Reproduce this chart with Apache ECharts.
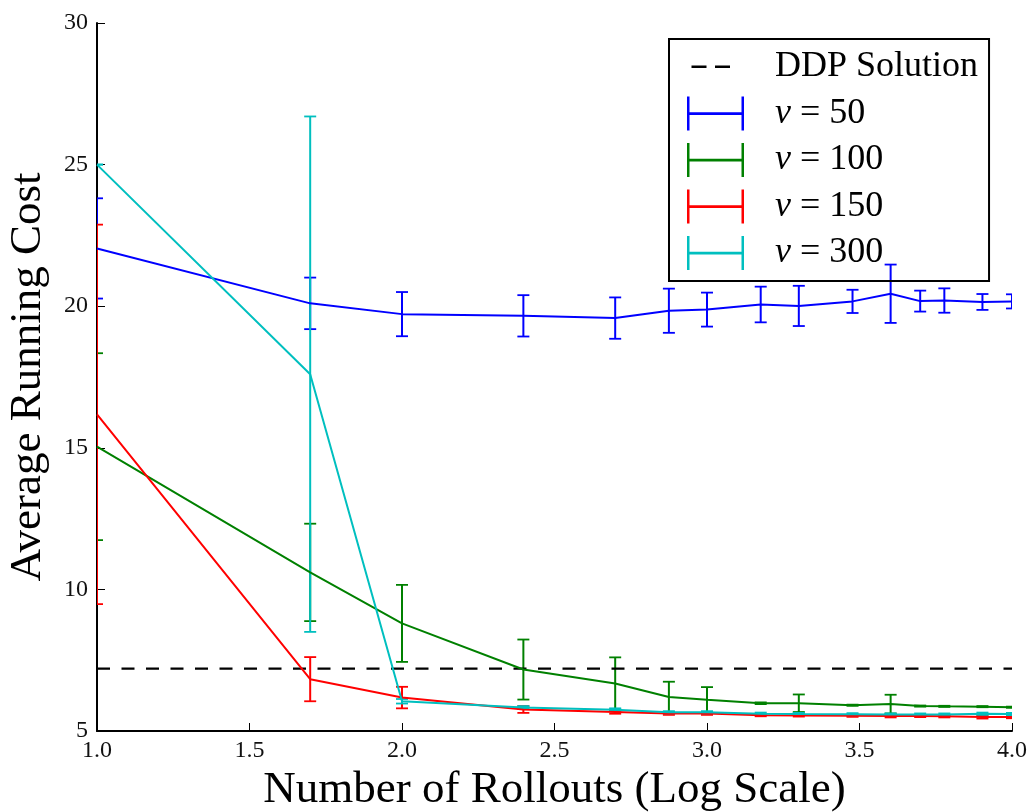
<!DOCTYPE html>
<html>
<head>
<meta charset="utf-8">
<script src="https://cdn.jsdelivr.net/npm/echarts@6/dist/echarts.min.js"></script>
<style>
  html, body { margin: 0; padding: 0; background: #ffffff; }
  #chart { width: 1033px; height: 812px; }
</style>
</head>
<body>
<div id="chart"></div>
<script>
// Number of rollouts per evaluation (plotted on a log10 axis)
const rollouts = [10, 50, 100, 250, 500, 750, 1000, 1500, 2000, 3000, 4000, 5000, 6000, 8000, 10000];

// Reference cost from the DDP solution
const ddpCost = 7.2;

// Average running cost and its error half-width for each temperature ν
const nu50Mean  = [22.04, 20.10, 19.72, 19.66, 19.58, 19.84, 19.88, 20.06, 20.01, 20.17, 20.44, 20.18, 20.20, 20.15, 20.17];
const nu50Err   = [1.77, 0.91, 0.78, 0.73, 0.73, 0.78, 0.60, 0.63, 0.71, 0.41, 1.03, 0.37, 0.43, 0.28, 0.25];

const nu100Mean = [15.04, 10.60, 8.80, 7.17, 6.68, 6.20, 6.10, 5.98, 5.98, 5.91, 5.95, 5.88, 5.87, 5.86, 5.84];
const nu100Err  = [3.30, 1.72, 1.36, 1.06, 0.92, 0.54, 0.45, 0.03, 0.31, 0.02, 0.33, 0.02, 0.02, 0.02, 0.02];

const nu150Mean = [16.18, 6.83, 6.18, 5.76, 5.67, 5.62, 5.62, 5.56, 5.55, 5.54, 5.53, 5.53, 5.52, 5.49, 5.49];
const nu150Err  = [6.70, 0.78, 0.38, 0.12, 0.06, 0.05, 0.05, 0.04, 0.04, 0.04, 0.05, 0.04, 0.04, 0.05, 0.04];

const nu300Mean = [25.00, 17.60, 6.05, 5.83, 5.75, 5.66, 5.66, 5.61, 5.60, 5.59, 5.58, 5.58, 5.58, 5.61, 5.60];
const nu300Err  = [0.00, 9.10, 0.08, 0.05, 0.05, 0.04, 0.04, 0.04, 0.04, 0.04, 0.04, 0.04, 0.04, 0.04, 0.04];

const seriesNames  = ['ν = 50', 'ν = 100', 'ν = 150', 'ν = 300'];
const seriesColors = ['#0000ff', '#008000', '#ff0000', '#00bfbf'];
const seriesMeans  = [nu50Mean, nu100Mean, nu150Mean, nu300Mean];
const seriesErrs   = [nu50Err, nu100Err, nu150Err, nu300Err];

const FONT = 'Liberation Serif';

// Legend glyphs: an errorbar "H" and a pair of dashes, both padded to the same box
const errIcon  = 'path://M0,0 h2.5 v34 h-2.5 z M54.5,0 h2.5 v34 h-2.5 z M0,15.8 h57 v2.6 h-57 z M82.99,33.99 h0.01 v0.01 h-0.01 z';
const dashIcon = 'path://M0,0 h0.01 v0.01 h-0.01 z M4.5,15.5 h15 v2.4 h-15 z M28,15.5 h15 v2.4 h-15 z M82.99,33.99 h0.01 v0.01 h-0.01 z';

const logX = rollouts.map(r => Math.log10(r));

function errorBarSeries(name, color, mean, err) {
  return {
    name: name + ' errors',
    type: 'custom',
    clip: true,
    silent: true,
    animation: false,
    data: logX.map((x, i) => [x, mean[i] - err[i], mean[i] + err[i]]),
    encode: { x: 0, y: [1, 2] },
    renderItem: function (params, api) {
      const x = api.value(0);
      const top = api.coord([x, api.value(2)]);
      const bot = api.coord([x, api.value(1)]);
      const hw = 6;
      const st = { stroke: color, lineWidth: 2 };
      const cap = { stroke: color, lineWidth: 1.8 };
      return {
        type: 'group',
        children: [
          { type: 'line', shape: { x1: top[0], y1: top[1], x2: bot[0], y2: bot[1] }, style: st },
          { type: 'line', shape: { x1: top[0] - hw, y1: top[1], x2: top[0] + hw, y2: top[1] }, style: cap },
          { type: 'line', shape: { x1: bot[0] - hw, y1: bot[1], x2: bot[0] + hw, y2: bot[1] }, style: cap }
        ]
      };
    }
  };
}

const series = [{
  name: 'DDP Solution',
  type: 'line',
  silent: true,
  animation: false,
  symbol: 'none',
  data: [[1, ddpCost], [4, ddpCost]],
  lineStyle: { color: '#000000', width: 2.3, type: [13, 11.5] },
  itemStyle: { color: '#000000' }
}];

seriesNames.forEach((name, k) => {
  series.push({
    name: name,
    type: 'line',
    silent: true,
    animation: false,
    symbol: 'none',
    data: logX.map((x, i) => [x, seriesMeans[k][i]]),
    lineStyle: { color: seriesColors[k], width: 2 },
    itemStyle: { color: seriesColors[k] }
  });
  series.push(errorBarSeries(name, seriesColors[k], seriesMeans[k], seriesErrs[k]));
});

const chart = echarts.init(document.getElementById('chart'), null, { renderer: 'canvas' });

chart.setOption({
  animation: false,
  backgroundColor: '#ffffff',
  textStyle: { fontFamily: FONT, color: '#000000' },
  grid: { left: 97, right: 21, top: 23, bottom: 81, containLabel: false, outerBoundsMode: 'none' },
  xAxis: {
    type: 'value',
    min: 1, max: 4, interval: 0.5,
    name: 'Number of Rollouts (Log Scale)',
    nameLocation: 'middle',
    nameGap: 33,
    nameTextStyle: { fontFamily: FONT, fontSize: 45, color: '#000000' },
    axisLine: { show: true, onZero: false, lineStyle: { color: '#000000', width: 2 } },
    axisTick: { show: true, inside: true, length: 8, lineStyle: { color: '#000000', width: 1 } },
    axisLabel: { fontFamily: FONT, fontSize: 24, color: '#111111', margin: 8, formatter: v => v.toFixed(1) },
    splitLine: { show: false }
  },
  yAxis: {
    type: 'value',
    min: 5, max: 30, interval: 5,
    name: 'Average Running Cost',
    nameLocation: 'middle',
    nameGap: 46,
    nameTextStyle: { fontFamily: FONT, fontSize: 45, color: '#000000' },
    axisLine: { show: true, onZero: false, lineStyle: { color: '#000000', width: 2 } },
    axisTick: { show: true, inside: true, length: 8, lineStyle: { color: '#000000', width: 1 } },
    axisLabel: { fontFamily: FONT, fontSize: 24, color: '#111111', margin: 9 },
    splitLine: { show: false }
  },
  legend: {
    orient: 'vertical',
    left: 669,
    top: 39,
    padding: [10, 11, 10, 18],
    itemGap: 10.5,
    itemWidth: 83,
    itemHeight: 34,
    selectedMode: false,
    borderColor: '#000000',
    borderWidth: 2,
    borderRadius: 0,
    backgroundColor: 'transparent',
    itemStyle: { borderWidth: 0 },
    data: [
      { name: 'DDP Solution', icon: dashIcon },
      { name: seriesNames[0], icon: errIcon },
      { name: seriesNames[1], icon: errIcon },
      { name: seriesNames[2], icon: errIcon },
      { name: seriesNames[3], icon: errIcon }
    ],
    formatter: function (name) {
      if (name.charAt(0) === 'ν') {
        return '{nu|ν}{t|' + name.slice(1) + '}';
      }
      return '{t|' + name + '}';
    },
    textStyle: {
      fontFamily: FONT,
      fontSize: 36,
      lineHeight: 34,
      color: '#000000',
      rich: {
        nu: { fontFamily: FONT, fontStyle: 'italic', fontSize: 36, lineHeight: 34, color: '#000000' },
        t: { fontFamily: FONT, fontSize: 36, lineHeight: 34, color: '#000000' }
      }
    }
  },
  series: series
});
</script>
</body>
</html>
